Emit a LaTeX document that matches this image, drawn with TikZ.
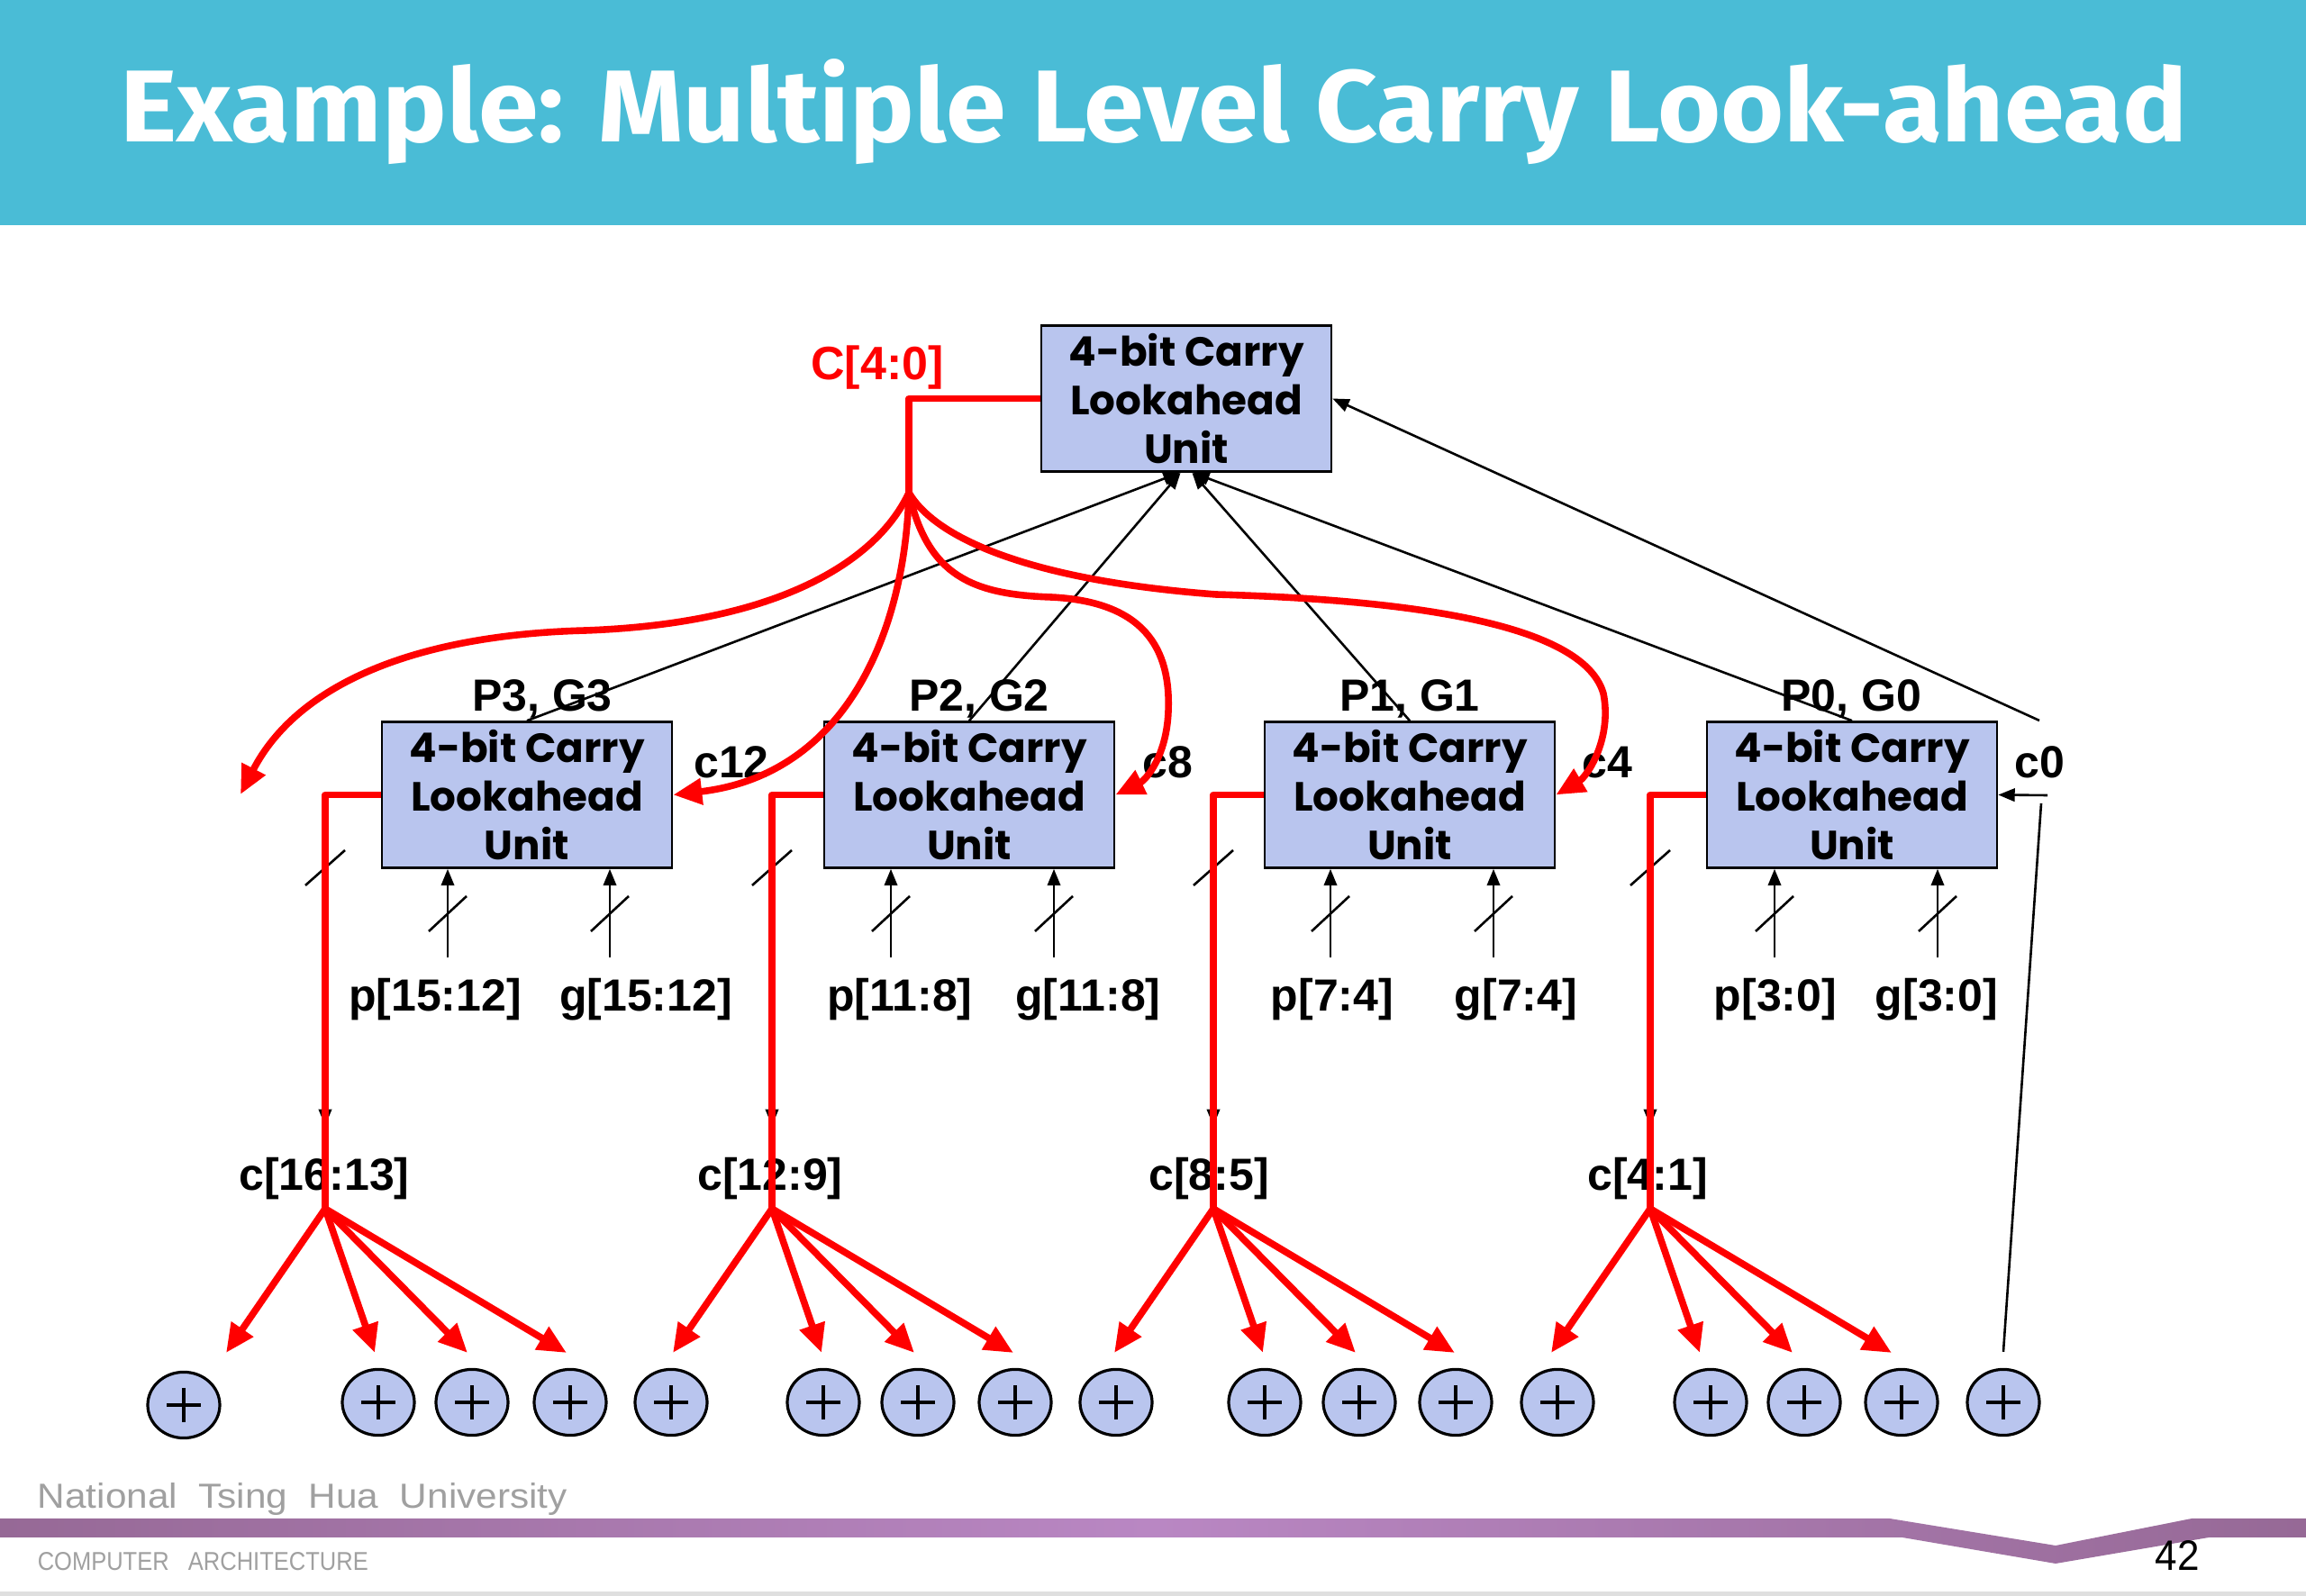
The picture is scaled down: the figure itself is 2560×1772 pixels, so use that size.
\documentclass[tikz,border=0pt]{standalone}
\usepackage{graphicx}
\usepackage{fontspec}
\setmainfont{Liberation Sans}
\newfontfamily\boxfont{Poppins}
\newfontfamily\titlefont{Fira Sans}
\usetikzlibrary{arrows.meta,shapes.geometric}
\definecolor{banner}{RGB}{74,188,214}
\definecolor{boxfill}{RGB}{185,197,238}
\definecolor{cred}{RGB}{255,0,0}
\definecolor{footgray}{RGB}{160,160,160}
\definecolor{bandA}{RGB}{150,105,150}
\definecolor{bandB}{RGB}{185,135,195}
\begin{document}
\begin{tikzpicture}[x=0.25pt,y=-0.25pt,
  cla/.style={draw=black,line width=0.65pt,fill=boxfill,minimum width=80.5pt,minimum height=40.5pt,inner sep=0pt,align=center,font=\boxfont\bfseries\fontsize{11.3}{13.5}\selectfont},
  lbl/.style={font=\bfseries\fontsize{12.5}{14}\selectfont,inner sep=0pt,anchor=base},
  adder/.style={ellipse,draw=black,line width=0.8pt,fill=boxfill,minimum width=20pt,minimum height=18.3pt,inner sep=0pt,
    path picture={\draw[line width=1pt] ([xshift=-4.75pt]path picture bounding box.center) -- ([xshift=4.75pt]path picture bounding box.center);
                  \draw[line width=1pt] ([yshift=-4.75pt]path picture bounding box.center) -- ([yshift=4.75pt]path picture bounding box.center);}},
  wire/.style={line width=0.65pt,black},
  warrow/.style={wire,-{Triangle[length=4.6pt,width=3.6pt]}},
  rwire/.style={line width=1.9pt,cred,line join=round},
  rarrow/.style={rwire,-{Triangle[length=8pt,width=7pt]}},
]
\fill[white] (0,0) rectangle (2560,1772);
\useasboundingbox (0,0) rectangle (2560,1772);

% banner and title
\fill[banner] (0,0) rectangle (2560,250);
\node[anchor=base,text=white,inner sep=0pt] (title) at (1281,158)
  {\resizebox{573.5pt}{23pt}{\titlefont\bfseries Example: Multiple Level Carry Look-ahead}};

% footer
\shade[left color=bandA,right color=bandA,middle color=bandB]
  (0,1686) -- (2098,1686) -- (2282,1716) -- (2433,1686) -- (2560,1686) -- (2560,1707)
  -- (2452,1707) -- (2282,1736) -- (2112,1707) -- (0,1707) -- cycle;
\fill[gray!25] (0,1767) rectangle (2560,1772);
\node[anchor=base west,inner sep=0pt,text=footgray] (univ) at (41,1675)
  {\resizebox{147pt}{7pt}{National\ \ Tsing\ \ Hua\ \ University}};
\node[anchor=base west,inner sep=0pt,text=footgray] (dept) at (41,1743)
  {\resizebox{91.75pt}{5pt}{COMPUTER\ \ \ ARCHITECTURE}};
\node[anchor=base west,inner sep=0pt] (pnum) at (2392,1743)
  {\resizebox{12.25pt}{8.25pt}{42}};

% boxes
\node[cla] (top) at (1317,442.5) {4-bit Carry\\Lookahead\\Unit};
\node[cla] (b3) at (585,882.5) {4-bit Carry\\Lookahead\\Unit};
\node[cla] (b2) at (1076,882.5) {4-bit Carry\\Lookahead\\Unit};
\node[cla] (b1) at (1565,882.5) {4-bit Carry\\Lookahead\\Unit};
\node[cla] (b0) at (2056,882.5) {4-bit Carry\\Lookahead\\Unit};

% adders
\node[adder] (a1) at (204,1560) {};
\foreach \x [count=\i from 2] in {420,524,633,745,914,1019,1127,1239,1404,1509,1616,1729,1899,2003,2111,2224}
  \node[adder] (a\i) at (\x,1557) {};

% labels
\node[lbl,text=cred,font=\bfseries\fontsize{13}{15}\selectfont] (C40) at (974,422) {C[4:0]};
\node[lbl] (pg3) at (602,790) {P3, G3};
\node[lbl] (pg2) at (1087,790) {P2, G2};
\node[lbl] (pg1) at (1565,790) {P1, G1};
\node[lbl] (pg0) at (2055,790) {P0, G0};
\node[lbl] (c12) at (812,864) {c12};
\node[lbl] (c8) at (1296,864) {c8};
\node[lbl] (c4) at (1784,864) {c4};
\node[lbl] (c0) at (2264,864) {c0};
\node[lbl] (lp3) at (483,1123) {p[15:12]};
\node[lbl] (lg3) at (717,1123) {g[15:12]};
\node[lbl] (lp2) at (999,1123) {p[11:8]};
\node[lbl] (lg2) at (1208,1123) {g[11:8]};
\node[lbl] (lp1) at (1479,1123) {p[7:4]};
\node[lbl] (lg1) at (1683,1123) {g[7:4]};
\node[lbl] (lp0) at (1971,1123) {p[3:0]};
\node[lbl] (lg0) at (2150,1123) {g[3:0]};
\node[lbl] (cc3) at (360,1322) {c[16:13]};
\node[lbl] (cc2) at (855,1322) {c[12:9]};
\node[lbl] (cc1) at (1342,1322) {c[8:5]};
\node[lbl] (cc0) at (1829,1322) {c[4:1]};

% black wires to the top unit
\draw[warrow] (b3.north) -- ([xshift=-1.8pt]top.south);
\draw[warrow] (b2.north) -- ([xshift=-1.6pt]top.south);
\draw[warrow] (b1.north) -- ([xshift=1.6pt]top.south);
\draw[warrow] (b0.north) -- ([xshift=1.8pt]top.south);
\coordinate (c0a) at (2264,800);
\coordinate (c0b) at (2273,883);
\coordinate (c0c) at (2266,892);
\draw[warrow] (c0a) -- (top.east);
\draw[warrow] (c0b) -- (b0.east);
\draw[wire] ([yshift=4.5pt]a17.north) -- (c0c);

% p, g inputs
\foreach \b/\p/\g in {b3/497/677,b2/989/1170,b1/1477/1658,b0/1970/2151}{
  \coordinate (\b-p) at (\p,1063);
  \coordinate (\b-g) at (\g,1063);
  \draw[warrow] (\b-p) -- (\b-p |- \b.south);
  \draw[warrow] (\b-g) -- (\b-g |- \b.south);
  \draw[wire] (\p-21,1034) -- (\p+21,995);
  \draw[wire] (\g-21,1034) -- (\g+21,995);
}

% slashes and small arrow tips under the red carry buses
\foreach \x in {361,857,1347,1832}{
  \draw[wire] (\x-22,983) -- (\x+22,944);
  \draw[warrow] (\x,1150) -- (\x,1250);
}

% red carry buses from the lower units
\foreach \b/\f/\x in {b3/f3/361,b2/f2/857,b1/f1/1347,b0/f0/1832}{
  \coordinate (\f) at (\x,1342);
  \draw[rwire] (\b.west) -| (\f);
  \foreach \dx [count=\i] in {-110,55,158,268}{
    \coordinate (\f t\i) at (\x+\dx,1502);
    \draw[rarrow] (\f) -- (\f t\i);
  }
}

% red carries from the top unit
\coordinate (split) at (1009,547);
\coordinate (cout) at (267,882);
\draw[rwire] (top.west) -| (split);
\draw[rarrow] (split) .. controls (975,620) and (870,692) .. (650,700)
  .. controls (460,705) and (330,760) .. (cout);
\draw[rarrow] (split) .. controls (1005,700) and (940,860) .. (b3.east);
\draw[rarrow] (split) .. controls (1030,640) and (1080,660) .. (1167,663)
  .. controls (1270,668) and (1300,720) .. (1297,790)
  .. controls (1295,840) and (1272,866) .. (b2.east);
\draw[rarrow] (split) .. controls (1040,600) and (1150,645) .. (1350,660)
  .. controls (1600,667) and (1760,700) .. (1780,770)
  .. controls (1790,820) and (1762,862) .. (b1.east);
\end{tikzpicture}
\end{document}
